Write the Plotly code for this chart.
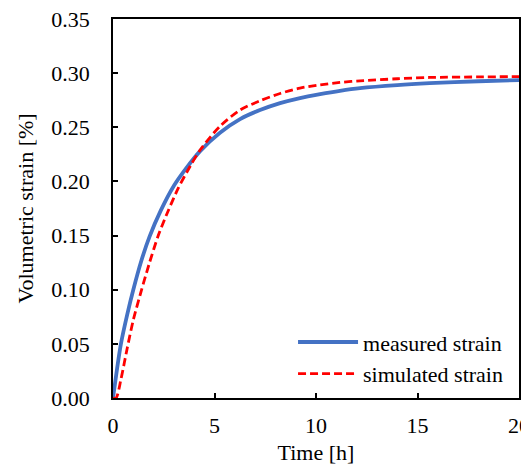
import plotly.graph_objects as go

# Measured strain (blue solid)
t_meas = [0, 0.2, 0.39, 0.7, 1.0, 1.4, 1.8, 2.35, 3.0, 3.6, 4.29, 5.27, 6.26, 7.24,
          8.23, 9.21, 10.2, 11.18, 12.17, 14.0, 15.6, 18.0, 20.0]
v_meas = [0, 0.027, 0.05, 0.077, 0.10, 0.127, 0.149, 0.173, 0.196, 0.212, 0.228,
          0.245, 0.2576, 0.2659, 0.2723, 0.277, 0.2806, 0.2837, 0.2862, 0.289,
          0.2907, 0.2925, 0.2935]

# Simulated strain (red dashed)
t_sim = [0, 0.15, 0.4, 0.7, 1.0, 1.41, 1.8, 2.23, 2.7, 3.22, 3.8, 4.29, 5.27, 6.26,
         7.24, 8.23, 9.21, 10.2, 11.18, 12.17, 14.0, 15.6, 18.0, 20.0]
v_sim = [0, 0, 0.018, 0.046, 0.072, 0.10, 0.125, 0.15, 0.172, 0.194, 0.214, 0.229,
         0.251, 0.2659, 0.2745, 0.2812, 0.2862, 0.2892, 0.2914, 0.2929, 0.2948,
         0.2960, 0.2965, 0.2968]

x_ticks = [0, 5, 10, 15, 20]
y_ticks = [0.00, 0.05, 0.10, 0.15, 0.20, 0.25, 0.30, 0.35]

FONT = "Liberation Serif, Times New Roman, serif"
FS = 22

fig = go.Figure()
fig.add_trace(go.Scatter(
    x=t_meas, y=v_meas, mode="lines", name="measured strain",
    line=dict(color="#4472C4", width=3.8, shape="spline", smoothing=0.8),
))
fig.add_trace(go.Scatter(
    x=t_sim, y=v_sim, mode="lines", name="simulated strain",
    line=dict(color="#FF0000", width=2.8, dash="8px,4px", shape="spline", smoothing=0.8),
))

fig.update_layout(
    width=521, height=466,
    margin=dict(l=105, r=10, t=11, b=76, autoexpand=False),
    paper_bgcolor="white", plot_bgcolor="white",
    font=dict(family=FONT, size=FS, color="black"),
    showlegend=True,
    legend=dict(
        x=0.973, y=0.105, xanchor="right", yanchor="middle",
        bgcolor="rgba(0,0,0,0)", font=dict(family=FONT, size=FS),
        itemwidth=60, tracegroupgap=0,
    ),
    xaxis=dict(
        range=[0, 20], tickvals=x_ticks, ticks="inside", ticklen=5, tickwidth=1.5,
        tickcolor="black", showline=True, linecolor="black", linewidth=1.5,
        mirror=True, showgrid=False, zeroline=False, automargin=False,
        ticklabelstandoff=7, ticklabeloverflow="allow",
        title=dict(text="Time [h]", standoff=7, font=dict(family=FONT, size=FS)),
    ),
    yaxis=dict(
        range=[0, 0.35], tickvals=y_ticks, tickformat=".2f", ticks="inside",
        ticklen=5, tickwidth=1.5, tickcolor="black", showline=True,
        linecolor="black", linewidth=1.5, mirror=True, showgrid=False,
        zeroline=False, ticklabelstandoff=17, automargin=False,
        ticklabeloverflow="allow",
        title=dict(text="Volumetric strain [%]", standoff=12, font=dict(family=FONT, size=FS)),
    ),
)

fig.write_html("out.html")
